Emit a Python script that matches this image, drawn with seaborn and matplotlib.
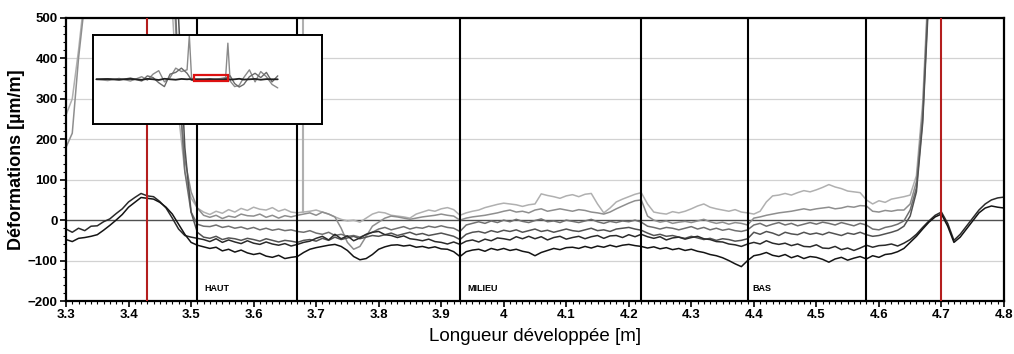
import numpy as np
import pandas as pd
import matplotlib
matplotlib.use("Agg")
import matplotlib.pyplot as plt
import seaborn as sns
from matplotlib.ticker import MultipleLocator, FuncFormatter
from matplotlib.patches import Rectangle

# ---------------- data ----------------
STEP = 0.01
# dark curves E, F : 3.30 -> 4.80
E_start = 3.30
E_vals = [
    -22, -30, -20, -26, -15, -14, -4, 3, 16, 28,
    45, 56, 66, 60, 58, 46, 30, 5, -22, -38,
    -42, -45, -48, -53, -46, -55, -49, -54, -58, -51,
    -57, -60, -54, -59, -62, -58, -64, -60, -55, -52,
    -45, -40, -49, -35, -46, -39, -51, -44, -35, -30,
    -28, -36, -38, -43, -39, -46, -48, -51, -47, -53,
    -55, -59, -54, -60, -52, -49, -54, -47, -51, -44,
    -46, -49, -41, -46, -40, -46, -41, -49, -43, -40,
    -47, -43, -40, -46, -41, -38, -45, -39, -38, -43,
    -36, -41, -35, -41, -45, -41, -49, -44, -42, -47,
    -43, -40, -46, -48, -53, -54, -59, -61, -65, -59,
    -55, -59, -51, -57, -60, -57, -63, -59, -65, -66,
    -61, -69, -70, -65, -73, -69, -75, -69, -62, -67,
    -63, -62, -59, -64, -57, -48, -35, -18, -2, 12,
    20, -8, -50, -35, -15, 5, 25, 40, 50, 55,
    57]
F_start = 3.30
F_vals = [
    -48, -53, -45, -43, -40, -36, -25, -13, 0, 14,
    32, 44, 56, 54, 52, 44, 32, 15, -10, -35,
    -55, -62, -66, -70, -67, -76, -72, -79, -74, -81,
    -85, -82, -89, -92, -87, -95, -92, -90, -80, -72,
    -68, -65, -62, -60, -65, -75, -90, -98, -95, -85,
    -72, -66, -62, -61, -64, -62, -67, -65, -69, -66,
    -71, -72, -78, -90, -78, -74, -72, -77, -70, -74,
    -70, -75, -72, -77, -80, -88, -80, -75, -70, -73,
    -68, -67, -70, -65, -69, -64, -67, -62, -66, -62,
    -60, -63, -65, -69, -66, -71, -68, -73, -70, -75,
    -72, -77, -80, -85, -88, -93, -100, -108, -115, -100,
    -88, -85, -80, -87, -90, -85, -93, -88, -95, -90,
    -92, -97, -104, -96, -92, -99, -94, -90, -96, -88,
    -92, -85, -83, -78, -70, -55, -40, -22, -5, 8,
    15, -15, -55, -42, -22, -2, 18, 30, 35, 32,
    30]
# gray curves A, B : 3.30 -> 4.70 ; C, D : 3.46 -> 4.70
A_start = 3.30
A_vals = [
    260, 300, 420, 560, 700, 900, 900, 900, 900, 900,
    900, 900, 900, 900, 900, 900, 900, 520, 260, 120,
    55, 30, 20, 14, 22, 17, 26, 20, 29, 24,
    32, 27, 25, 31, 22, 27, 20, 18, 20, 22,
    25, 20, 15, 8, 2, -2, 0, -5, 5, 15,
    20, 18, 12, 10, 8, 5, 15, 20, 25, 22,
    28, 31, 26, 12, 18, 22, 25, 31, 35, 39,
    42, 40, 38, 34, 38, 40, 65, 61, 58, 54,
    60, 63, 58, 64, 66, 40, 18, 30, 45, 52,
    58, 64, 68, 40, 20, 17, 15, 21, 18, 22,
    28, 35, 40, 32, 28, 25, 22, 26, 20, 18,
    15, 22, 45, 60, 62, 66, 62, 68, 73, 70,
    75, 81, 88, 82, 78, 72, 70, 68, 50, 40,
    48, 44, 52, 55, 58, 62, 110, 290, 620, 1200,
    1500]
A_spike_x = [3.6785, 3.679, 3.6795]
A_spike_v = [20, 3000, 20]
B_start = 3.30
B_vals = [
    180, 215, 400, 540, 800, 900, 900, 900, 900, 900,
    900, 900, 900, 900, 900, 900, 900, 650, 330, 150,
    70, 30, 12, 7, 12, 4, 10, 7, 15, 11,
    10, 15, 7, 12, 5, 11, 8, 12, 15, 18,
    12, 20, 15, 8, -20, -55, -72, -65, -40, -15,
    -5, 5, 10, 8, 5, 2, 5, 8, 10, 12,
    15, 12, 10, 0, 5, 8, 10, 12, 15, 18,
    22, 25, 20, 22, 18, 25, 28, 22, 25, 28,
    25, 22, 26, 24, 20, 18, 15, 20, 28, 35,
    42, 48, 50, 10, 0, -5, -2, -8, -5, -3,
    -6, -2, 2, -4, -8, -5, -10, -6, -8, -12,
    5, 8, 12, 15, 18, 20, 22, 25, 28, 25,
    28, 30, 32, 28, 30, 34, 32, 36, 35, 22,
    20, 24, 22, 25, 25, 40, 95, 270, 600, 1100,
    1500]
C_start = 3.46
C_vals = [
    900, 700, 350, 120,
    20, -10, -15, -16, -12, -18, -15, -20, -17, -22,
    -18, -24, -20, -25, -22, -26, -24, -28, -30, -26,
    -32, -35, -30, -38, -35, -40, -38, -42, -36, -30,
    -22, -18, -24, -20, -16, -22, -18, -20, -15, -18,
    -14, -18, -20, -28, -12, -8, -4, -8, -2, -6,
    0, -4, 2, -3, -6, -1, 3, -4, -2, -6,
    0, -3, -6, -2, 2, -4, -8, -3, -6, -2,
    -4, 0, -5, -15, -18, -22, -18, -20, -24, -20,
    -16, -22, -18, -24, -20, -25, -22, -26, -28, -24,
    -12, -8, -15, -10, -6, -12, -8, -14, -10, -6,
    -10, -5, -8, -12, -6, -10, -14, -8, -12, -22,
    -24, -18, -15, -10, -2, 25, 80, 250, 580, 1100,
    1500]
D_start = 3.46
D_vals = [
    950, 900, 500, 180,
    20, -30, -42, -45, -40, -48, -44, -46, -50, -45,
    -48, -52, -46, -50, -54, -50, -52, -55, -50, -48,
    -52, -45, -50, -42, -48, -44, -40, -46, -42, -38,
    -40, -36, -32, -38, -34, -30, -36, -33, -38, -35,
    -32, -36, -40, -48, -35, -30, -28, -32, -26, -30,
    -25, -28, -24, -30, -26, -22, -28, -25, -30, -26,
    -22, -26, -28, -24, -20, -26, -24, -28, -22, -20,
    -18, -22, -25, -32, -38, -35, -40, -38, -42, -45,
    -40, -44, -48, -45, -50, -46, -48, -52, -50, -46,
    -30, -35, -28, -32, -38, -30, -34, -36, -30, -35,
    -32, -36, -30, -34, -38, -32, -35, -30, -36, -40,
    -38, -34, -30, -25, -15, 10, 70, 240, 560, 1050,
    1500]

series_names = ["A", "B", "C", "D", "E", "F"]
series_colors = ["#b0b0b0", "#8e8e8e", "#707070", "#525252", "#2a2a2a", "#141414"]

# zone limits / labels
red_lines = [3.43, 4.70]
zone_lines = [3.51, 3.67, 3.93, 4.22, 4.39, 4.58]
zone_labels = ["HAUT", "MILIEU", "BAS"]
zone_label_x = [3.522, 3.942, 4.398]
zone_label_y = -170

x_lim = (3.3, 4.8)
y_lim = (-200, 500)
x_ticks = [3.3, 3.4, 3.5, 3.6, 3.7, 3.8, 3.9, 4.0, 4.1, 4.2, 4.3, 4.4, 4.5, 4.6, 4.7, 4.8]
y_ticks = [-200, -100, 0, 100, 200, 300, 400, 500]

# inset overview
inset_x = [-1.0, -0.5, 0.0, 0.5, 1.0, 1.25, 1.5, 1.75, 2.0, 2.25, 2.5, 2.75, 3.0, 3.1, 3.2,
           3.5, 4.0, 4.5, 4.7, 4.8, 4.9, 5.1, 5.3, 5.5, 5.75, 6.0, 6.25, 6.5, 6.75, 7.0]
inset_g1 = [0, -150, 100, -200, 300, -100, 600, 1000, -300, 200, 1300, 900, 1100, 5100, 100,
            0, -100, 100, 200, 4200, -200, -850, -700, 200, 1100, -300, 900, 300, -600, -1000]
inset_g2 = [0, 50, -100, 150, -200, 400, 200, -400, -850, 600, 800, 1300, 700, 300, -100,
            -200, 0, -100, 100, 300, 400, -500, -900, -600, 300, 700, 200, 800, -300, 400]
inset_k = [0, 30, -20, 40, -60, 50, 0, -80, 60, 0, -50, 40, 0, 20, -30,
           0, 20, -20, 0, 30, -40, 0, 60, -30, 0, 40, -50, 20, 0, 0]
inset_xlim = (-1.15, 8.95)
inset_ylim = (-5200, 5150)

# ---------------- build frame ----------------
def curve(name, start, vals, extra_x=None, extra_v=None):
    x = np.round(start + STEP * np.arange(len(vals)), 4)
    v = np.asarray(vals, dtype=float)
    if extra_x is not None:
        x = np.concatenate([x, extra_x])
        v = np.concatenate([v, extra_v])
    d = pd.DataFrame({"x": x, "v": v, "serie": name})
    return d.sort_values("x")

df = pd.concat([
    curve("A", A_start, A_vals, A_spike_x, A_spike_v),
    curve("B", B_start, B_vals),
    curve("C", C_start, C_vals),
    curve("D", D_start, D_vals),
    curve("E", E_start, E_vals),
    curve("F", F_start, F_vals),
], ignore_index=True)

sns.set_style("white")
plt.rcParams["font.family"] = ["Liberation Sans", "DejaVu Sans"]
plt.rcParams["axes.labelcolor"] = "black"
plt.rcParams["text.color"] = "black"

fig = plt.figure(figsize=(10.14, 3.54), dpi=100)
ax = fig.add_axes([0.0651, 0.1497, 0.9250, 0.7995])

for yv in y_ticks:
    if yv != 0:
        ax.axhline(yv, color="#d2d2d2", lw=0.9, zorder=0.5)
ax.axhline(0, color="#505050", lw=1.0, zorder=1.5)

sns.lineplot(data=df, x="x", y="v", hue="serie", hue_order=series_names,
             palette=dict(zip(series_names, series_colors)), estimator=None,
             sort=False, legend=False, lw=1.1, ax=ax, zorder=2)

for xv in zone_lines:
    ax.axvline(xv, color="black", lw=1.5, zorder=3)
for xv in red_lines:
    ax.axvline(xv, color="#b41e1e", lw=1.5, zorder=3)
for lab, xl in zip(zone_labels, zone_label_x):
    ax.text(xl, zone_label_y, lab, fontsize=6.5, fontweight="bold", ha="left",
            va="center", zorder=4, color="black")

ax.set_xlim(*x_lim)
ax.set_ylim(*y_lim)
ax.set_xticks(x_ticks)
ax.set_yticks(y_ticks)
ax.xaxis.set_minor_locator(MultipleLocator(0.01))
ax.yaxis.set_minor_locator(MultipleLocator(20))
ax.xaxis.set_major_formatter(FuncFormatter(lambda v, p: ("%g" % round(v, 2))))
ax.tick_params(axis="both", which="major", direction="out", length=4, width=1.2,
               labelsize=9.5, pad=2, colors="black")
ax.tick_params(axis="both", which="minor", direction="out", length=2.5, width=0.8,
               colors="black")
ax.tick_params(bottom=True, left=True, top=False, right=False, which="both")
for lbl in ax.get_xticklabels() + ax.get_yticklabels():
    lbl.set_fontweight("bold")
for s in ax.spines.values():
    s.set_visible(True)
    s.set_color("black")
    s.set_linewidth(1.6)

ax.set_xlabel("Longueur développée [m]", fontsize=13.5, labelpad=5, color="black")
ax.set_ylabel("Déformations [µm/m]", fontsize=13, fontweight="bold", labelpad=2,
              color="black")

# inset
axi = fig.add_axes([0.0917, 0.6497, 0.2258, 0.2514])
axi.set_facecolor("white")
axi.plot(inset_x, inset_g1, color="#8a8a8a", lw=1.0)
axi.plot(inset_x, inset_g2, color="#6a6a6a", lw=1.0)
axi.plot(inset_x, inset_k, color="#202020", lw=1.3)
axi.add_patch(Rectangle((x_lim[0], y_lim[0]), x_lim[1] - x_lim[0], y_lim[1] - y_lim[0],
                        fill=False, edgecolor="#dd1111", lw=1.6, zorder=5))
axi.set_xlim(*inset_xlim)
axi.set_ylim(*inset_ylim)
axi.set_xticks([])
axi.set_yticks([])
for s in axi.spines.values():
    s.set_visible(True)
    s.set_color("black")
    s.set_linewidth(1.4)

fig.savefig("out.png", dpi=100)
